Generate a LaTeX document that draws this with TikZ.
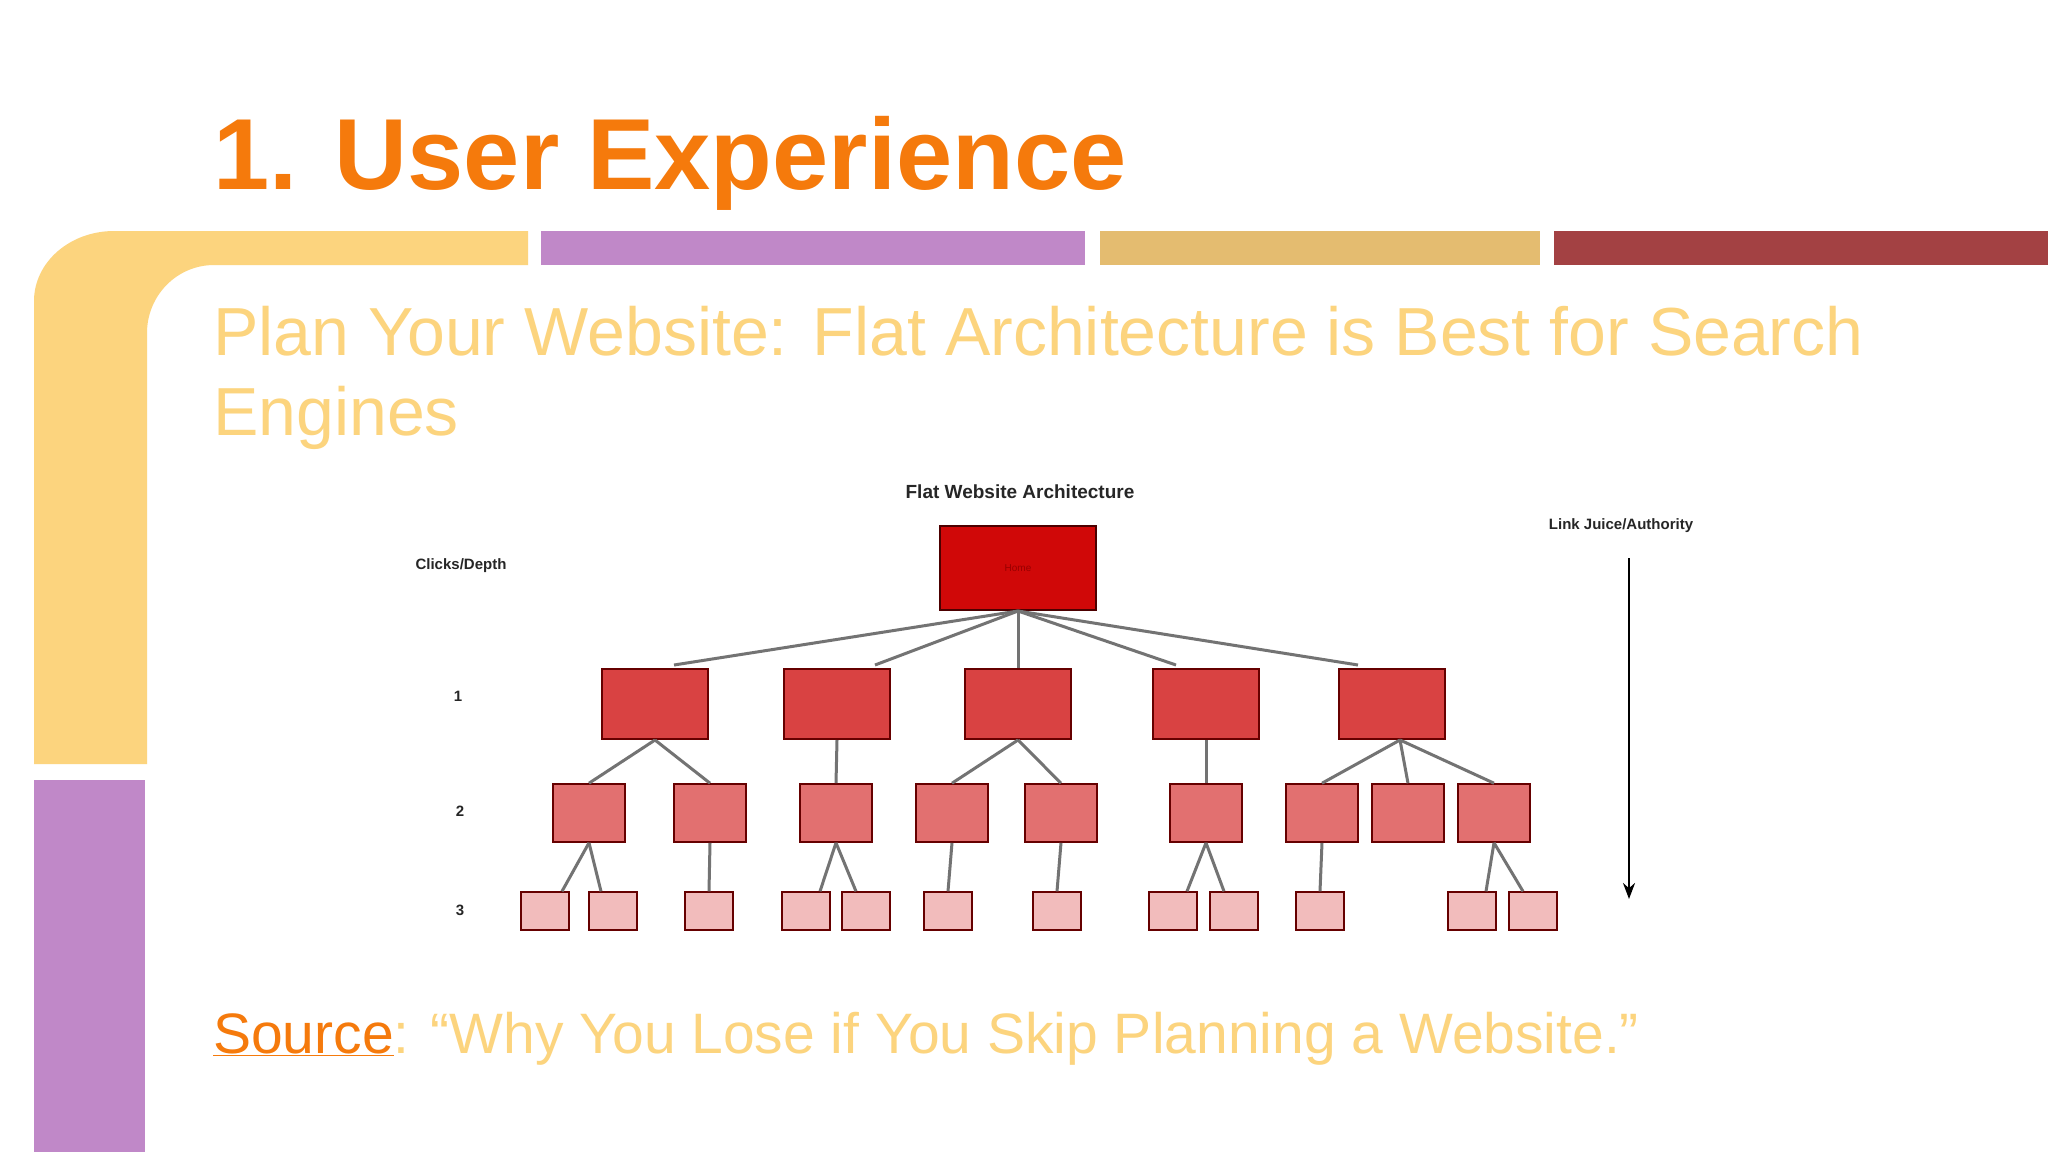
\documentclass[tikz,border=0pt]{standalone}
\usepackage{fontspec}
\setmainfont{Liberation Sans}
\usetikzlibrary{calc,arrows.meta}
\definecolor{ttl}{HTML}{F57A0C}
\definecolor{ylw}{HTML}{FCD47E}
\definecolor{prp}{HTML}{C088C8}
\definecolor{gld}{HTML}{E4BC70}
\definecolor{drd}{HTML}{A34143}
\definecolor{homec}{HTML}{D00808}
\definecolor{lonec}{HTML}{D94242}
\definecolor{ltwoc}{HTML}{E27070}
\definecolor{lthreec}{HTML}{F2BCBC}
\tikzset{
  homebox/.style={draw=black!70!red,line width=2pt,fill=homec,minimum width=156pt,minimum height=84pt,inner sep=0pt},
  onebox/.style={draw=black!60!red,line width=2pt,fill=lonec,minimum width=106pt,minimum height=70pt,inner sep=0pt},
  twobox/.style={draw=black!60!red,line width=1.6pt,fill=ltwoc,minimum width=72pt,minimum height=58pt,inner sep=0pt},
  threebox/.style={draw=black!60!red,line width=1.4pt,fill=lthreec,minimum width=48pt,minimum height=38pt,inner sep=0pt},
  link/.style={draw=black!55,line width=3pt},
  lbl/.style={font=\fontsize{15}{18}\selectfont\bfseries,text=black!85,inner sep=0pt}
}
\begin{document}
\begin{tikzpicture}[x=1pt,y=-1pt]
\useasboundingbox (0,0) rectangle (2048,1152);
\fill[white] (0,0) rectangle (2048,1152);
% decorative bars
\fill[ylw] (34,764) -- (34,301) arc[start angle=180,end angle=270,x radius=80,y radius=70] -- (528,231) -- (528,265) -- (214,265) arc[start angle=270,end angle=180,x radius=67,y radius=68] -- (147,764) -- cycle;
\fill[prp] (541,231) rectangle (1085,265);
\fill[gld] (1100,231) rectangle (1540,265);
\fill[drd] (1554,231) rectangle (2048,265);
\fill[prp] (34,780) rectangle (145,1152);
% texts
\node[anchor=base west,inner sep=0pt,text=ttl,font=\fontsize{101}{110}\selectfont\bfseries] (title) at (213,189) {1. User Experience};
\node[anchor=base west,inner sep=0pt,text=ylw,font=\fontsize{68}{75}\selectfont] (sub1) at (213,355) {Plan Your Website: Flat Architecture is Best for Search};
\node[anchor=base west,inner sep=0pt,text=ylw,font=\fontsize{68}{75}\selectfont] (sub2) at (213,435) {Engines};
\node[anchor=base west,inner sep=0pt,font=\fontsize{57}{63}\selectfont] (src) at (213,1053) {\textcolor{ttl}{\underline{Source}}\textcolor{ylw}{: “Why You Lose if You Skip Planning a Website.”}};
% diagram
\node[lbl,font=\fontsize{19}{22}\selectfont\bfseries] (dtitle) at (1020,492) {Flat Website Architecture};
\node[lbl] (cd) at (461,566) {Clicks/Depth};
\node[lbl] (lj) at (1621,526) {Link Juice/Authority};
\node[lbl] (d1) at (458,696) {1};
\node[lbl] (d2) at (460,811) {2};
\node[lbl] (d3) at (460,910) {3};
\coordinate (ats) at (1629,558);
\coordinate (ate) at (1629,899);
\draw[line width=2.5pt,-{Stealth[length=16pt,width=12pt]}] (ats) -- (ate);
\node[homebox] (home) at (1018,568) {\textcolor{black!40!red}{\fontsize{10}{10}\selectfont Home}};
\foreach \n/\x in {a/655,b/837,c/1018,d/1206,e/1392}
  \node[onebox] (o\n) at (\x,704) {};
\foreach \n/\x in {a1/589,a2/710,b1/836,c1/952,c2/1061,d1/1206,e1/1322,e2/1408,e3/1494}
  \node[twobox] (t\n) at (\x,813) {};
\foreach \n/\x in {a/545,b/613,c/709,d/806,e/866,f/948,g/1057,h/1173,i/1234,j/1320,k/1472,l/1533}
  \node[threebox] (h\n) at (\x,911) {};
% level 1 links
\draw[link] (home.south) -- ($(oa.north)+(19,-3)$);
\draw[link] (home.south) -- ($(ob.north)+(38,-3)$);
\draw[link] (home.south) -- (oc.north);
\draw[link] (home.south) -- ($(od.north)+(-30,-3)$);
\draw[link] (home.south) -- ($(oe.north)+(-34,-3)$);
% level 2 links
\draw[link] (oa.south) -- (ta1.north);
\draw[link] (oa.south) -- (ta2.north);
\draw[link] (ob.south) -- (tb1.north);
\draw[link] (oc.south) -- (tc1.north);
\draw[link] (oc.south) -- (tc2.north);
\draw[link] (od.south) -- (td1.north);
\draw[link] ($(oe.south)+(8,0)$) -- (te1.north);
\draw[link] ($(oe.south)+(8,0)$) -- (te2.north);
\draw[link] ($(oe.south)+(8,0)$) -- (te3.north);
% level 3 links
\draw[link] (ta1.south) -- ($(ha.north)+(17,0)$);
\draw[link] (ta1.south) -- ($(hb.north)+(-12,0)$);
\draw[link] (ta2.south) -- (hc.north);
\draw[link] (tb1.south) -- ($(hd.north)+(14,0)$);
\draw[link] (tb1.south) -- ($(he.north)+(-10,0)$);
\draw[link] (tc1.south) -- (hf.north);
\draw[link] (tc2.south) -- (hg.north);
\draw[link] (td1.south) -- ($(hh.north)+(14,0)$);
\draw[link] (td1.south) -- ($(hi.north)+(-10,0)$);
\draw[link] (te1.south) -- (hj.north);
\draw[link] (te3.south) -- ($(hk.north)+(14,0)$);
\draw[link] (te3.south) -- ($(hl.north)+(-10,0)$);
\end{tikzpicture}
\end{document}
